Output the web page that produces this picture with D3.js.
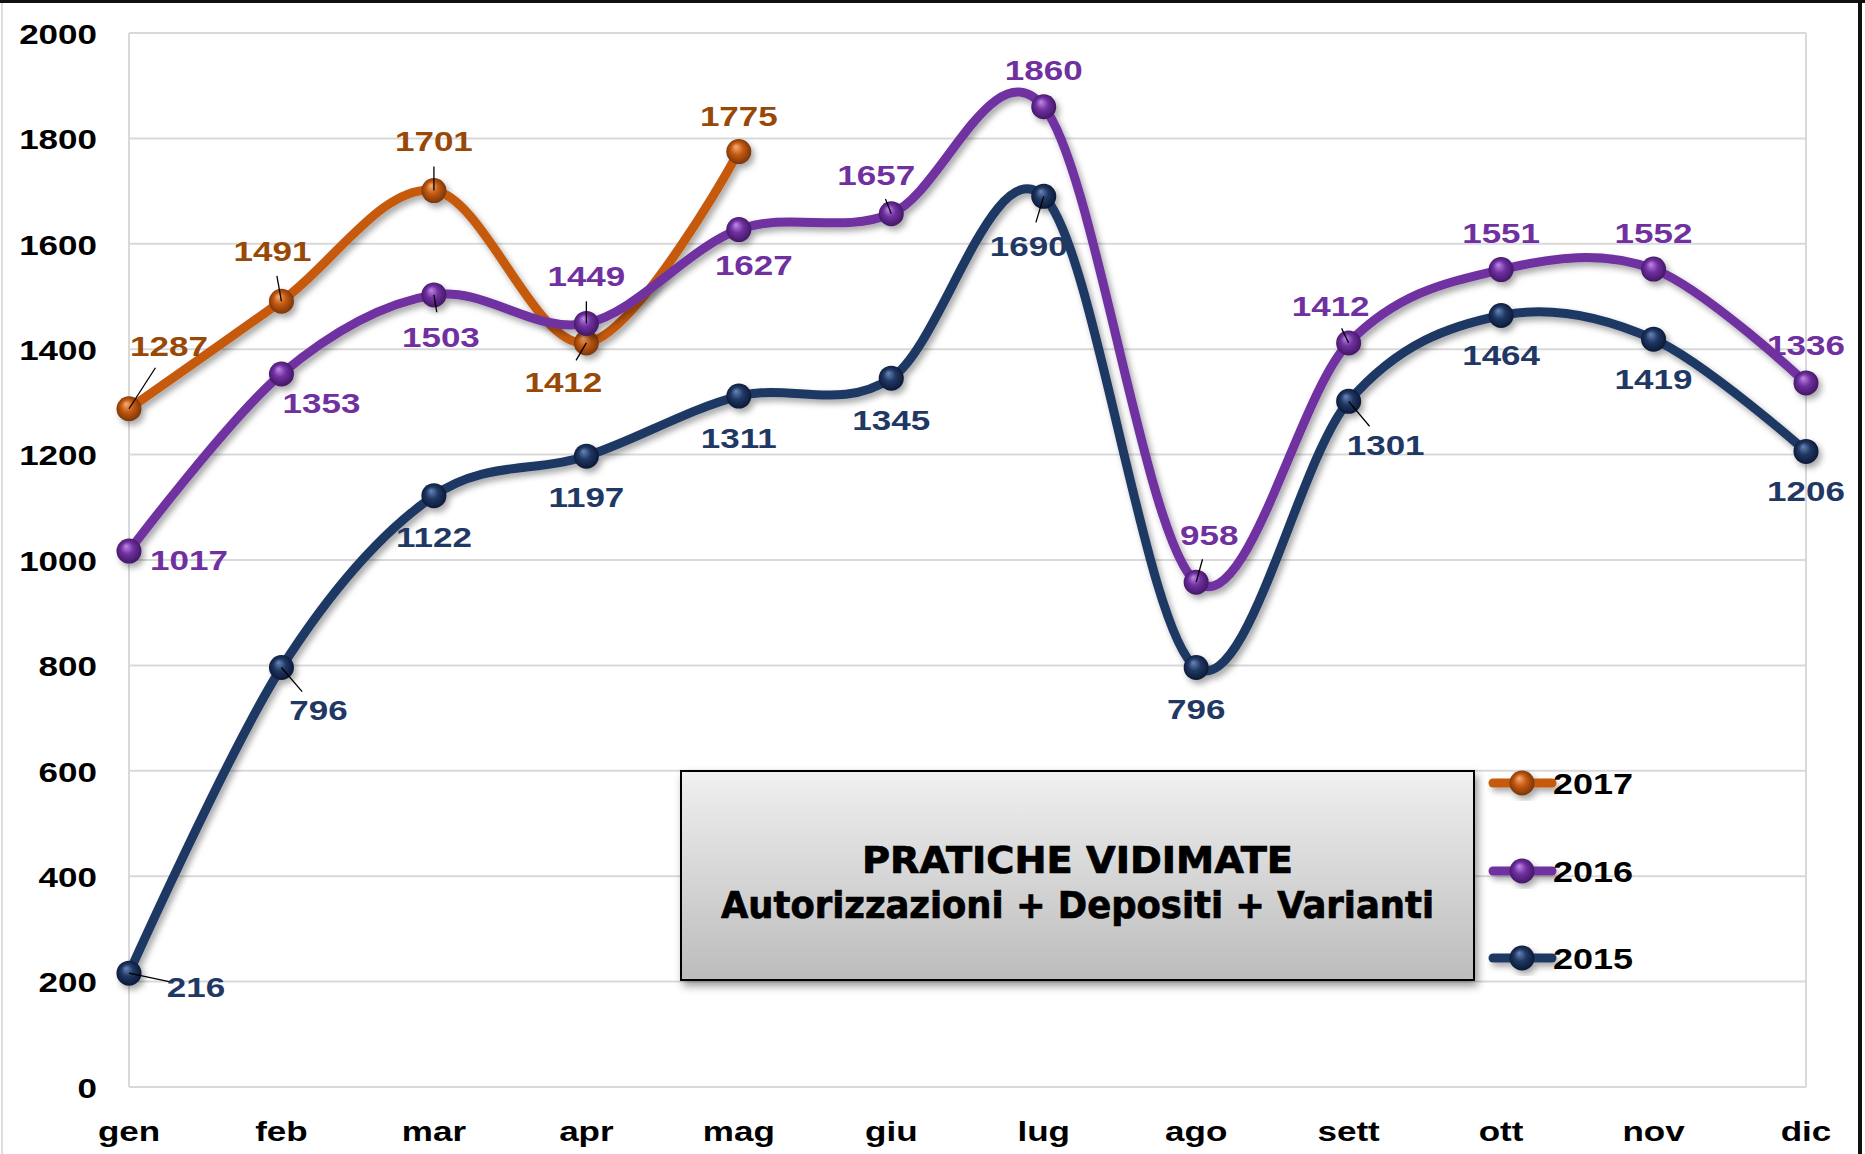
<!DOCTYPE html>
<html>
<head>
<meta charset="utf-8">
<script src="https://cdn.jsdelivr.net/npm/d3@7"></script>
<style>
  html, body { margin: 0; padding: 0; background: #ffffff; }
  svg { display: block; }
</style>
</head>
<body>
<svg id="chart" width="1865" height="1154"></svg>
<script>
// ---------- data ----------
const months = ["gen","feb","mar","apr","mag","giu","lug","ago","sett","ott","nov","dic"];
const yTickValues = [0,200,400,600,800,1000,1200,1400,1600,1800,2000];
const seriesNames = ["2017","2016","2015"];
const values2017 = [1287,1491,1701,1412,1775];
const values2016 = [1017,1353,1503,1449,1627,1657,1860,958,1412,1551,1552,1336];
const values2015 = [216,796,1122,1197,1311,1345,1690,796,1301,1464,1419,1206];
const titleLines = ["PRATICHE VIDIMATE", "Autorizzazioni + Depositi + Varianti"];

// ---------- layout (label offsets relative to points, leader flags) ----------
const labelOffsets2017 = [[40,-62],[-9,-50],[0,-49],[-23,39],[0,-35]];
const labelOffsets2016 = [[60,9],[40,29],[7,42],[0,-47],[15,36],[-15,-38],[0,-36],[13,-47],[-18,-37],[0,-36],[0,-36],[0,-38]];
const labelOffsets2015 = [[67,14],[37,43],[0,42],[0,41],[0,42],[0,42],[-15,50],[0,42],[37,44],[0,40],[0,40],[0,40]];
const leaders2017 = [1,1,1,1,0];
const leaders2016 = [0,0,1,1,0,1,0,1,1,0,0,0];
const leaders2015 = [1,1,0,0,0,0,1,0,1,0,0,0];

const styles = {
  "2017": {line:"#C55A11", label:"#984807", hi:"#F4B07A", mid:"#C55A11", dark:"#6E3006"},
  "2016": {line:"#7030A0", label:"#7030A0", hi:"#C08AE8", mid:"#7030A0", dark:"#3C145C"},
  "2015": {line:"#1F3864", label:"#1F3864", hi:"#6A86B8", mid:"#1F3864", dark:"#0A1530"}
};
const seriesData = {
  "2017": {values: values2017, offsets: labelOffsets2017, leaders: leaders2017},
  "2016": {values: values2016, offsets: labelOffsets2016, leaders: leaders2016},
  "2015": {values: values2015, offsets: labelOffsets2015, leaders: leaders2015}
};

const svg = d3.select("#chart");
const W = 1865, H = 1154;
const plot = {left:129, right:1806, top:33, bottom:1087};
const SX = 1.25; // horizontal stretch of text

const x = d3.scalePoint().domain(months).range([plot.left, plot.right]).padding(0);
const y = d3.scaleLinear().domain([0,2000]).range([plot.bottom, plot.top]);

// ---------- defs ----------
const defs = svg.append("defs");
const sh = defs.append("filter").attr("id","shadow").attr("x","-10%").attr("y","-10%").attr("width","130%").attr("height","130%");
sh.append("feDropShadow").attr("dx",3).attr("dy",4).attr("stdDeviation",3)
  .attr("flood-color","#000").attr("flood-opacity",0.35);
const bsh = defs.append("filter").attr("id","boxshadow").attr("x","-5%").attr("y","-10%").attr("width","115%").attr("height","130%");
bsh.append("feDropShadow").attr("dx",3).attr("dy",5).attr("stdDeviation",4)
  .attr("flood-color","#000").attr("flood-opacity",0.4);
seriesNames.forEach(n => {
  const st = styles[n];
  const g = defs.append("radialGradient").attr("id","sphere"+n)
    .attr("cx","50%").attr("cy","50%").attr("r","55%").attr("fx","38%").attr("fy","30%");
  g.append("stop").attr("offset","0%").attr("stop-color",st.hi);
  g.append("stop").attr("offset","45%").attr("stop-color",st.mid);
  g.append("stop").attr("offset","100%").attr("stop-color",st.dark);
});
const boxGrad = defs.append("linearGradient").attr("id","boxgrad").attr("x1",0).attr("y1",0).attr("x2",0).attr("y2",1);
boxGrad.append("stop").attr("offset","0%").attr("stop-color","#f0f0f0");
boxGrad.append("stop").attr("offset","100%").attr("stop-color","#bcbcbc");

// ---------- background & frame ----------
svg.append("rect").attr("x",0).attr("y",0).attr("width",W).attr("height",H).attr("fill","#fff");
svg.append("line").attr("x1",2).attr("x2",2).attr("y1",0).attr("y2",H).attr("stroke","#d0d0d0").attr("stroke-width",1.5);
svg.append("line").attr("x1",0).attr("x2",W).attr("y1",1.5).attr("y2",1.5).attr("stroke","#111").attr("stroke-width",3);
svg.append("line").attr("x1",1860).attr("x2",1860).attr("y1",0).attr("y2",H).attr("stroke","#111").attr("stroke-width",4);

// ---------- grid ----------
const grid = svg.append("g");
grid.selectAll("line.h").data(yTickValues).join("line")
  .attr("x1",plot.left).attr("x2",plot.right)
  .attr("y1",d=>y(d)).attr("y2",d=>y(d))
  .attr("stroke","#d9d9d9").attr("stroke-width",2);
grid.append("line").attr("x1",plot.left).attr("x2",plot.left).attr("y1",plot.top).attr("y2",plot.bottom)
  .attr("stroke","#d9d9d9").attr("stroke-width",2);
grid.append("line").attr("x1",plot.right).attr("x2",plot.right).attr("y1",plot.top).attr("y2",plot.bottom)
  .attr("stroke","#d9d9d9").attr("stroke-width",2);

function stretchedText(parent, tx, ty, str, opts) {
  const t = parent.append("text")
    .attr("transform", `translate(${tx},${ty}) scale(${opts.sx || SX},1)`)
    .attr("x",0).attr("y",0)
    .attr("font-family","'Liberation Sans', Arial, sans-serif")
    .attr("font-weight","bold")
    .attr("font-size", opts.size || 28)
    .attr("fill", opts.fill || "#000")
    .attr("text-anchor", opts.anchor || "middle")
    .attr("dominant-baseline", opts.baseline || "central")
    .text(str);
  return t;
}

// ---------- axes labels ----------
const axisG = svg.append("g");
yTickValues.forEach(v => stretchedText(axisG, 97, y(v)+1, String(v), {anchor:"end"}));
months.forEach(m => stretchedText(axisG, x(m), 1141, m, {baseline:"alphabetic"}));

// ---------- title box ----------
const box = {x:681, y:771, w:793, h:209};
svg.append("rect").attr("x",box.x).attr("y",box.y).attr("width",box.w).attr("height",box.h)
  .attr("fill","url(#boxgrad)").attr("stroke","#000").attr("stroke-width",2)
  .attr("filter","url(#boxshadow)");
const titleWidths = [431, 713];
const titleBase = [873, 918];
titleLines.forEach((s,i) => {
  svg.append("text")
    .attr("x", box.x + box.w/2).attr("y", titleBase[i])
    .attr("text-anchor","middle")
    .attr("font-family","'Liberation Sans Narrow', 'DejaVu Sans Condensed', 'Liberation Sans', sans-serif")
    .attr("font-weight","bold").attr("font-size",38)
    .attr("fill","#000").attr("stroke","#000").attr("stroke-width",0.7)
    .attr("textLength", titleWidths[i]).attr("lengthAdjust","spacingAndGlyphs")
    .text(s);
});

// ---------- series ----------
const lineGen = d3.line().curve(d3.curveCardinal.tension(0))
  .x(d=>x(d.m)).y(d=>y(d.v));

seriesNames.forEach(n => {
  const st = styles[n];
  const pts = seriesData[n].values.map((v,i)=>({m:months[i], v}));
  const g = svg.append("g").attr("filter","url(#shadow)");
  g.append("path").datum(pts).attr("d",lineGen)
    .attr("fill","none").attr("stroke",st.line).attr("stroke-width",9)
    .attr("stroke-linecap","round").attr("stroke-linejoin","round");
  g.selectAll("circle").data(pts).join("circle")
    .attr("cx",d=>x(d.m)).attr("cy",d=>y(d.v)).attr("r",12.5)
    .attr("fill",`url(#sphere${n})`);
});

// ---------- data labels & leaders ----------
const labG = svg.append("g");
seriesNames.forEach(n => {
  const st = styles[n];
  const sd = seriesData[n];
  sd.values.forEach((v,i) => {
    const px = x(months[i]), py = y(v);
    const [dx,dy] = sd.offsets[i];
    if (sd.leaders[i]) {
      const len = Math.hypot(dx,dy);
      const k = Math.max(0,(len-25)/len);
      labG.append("line").attr("x1",px).attr("y1",py)
        .attr("x2",px+dx*k).attr("y2",py+dy*k)
        .attr("stroke","#000").attr("stroke-width",1.3);
    }
    stretchedText(labG, px+dx, py+dy, String(v), {fill:st.label});
  });
});

// ---------- legend ----------
const legY = [783, 871, 958];
const legG = svg.append("g");
seriesNames.forEach((n,i) => {
  const st = styles[n];
  const gg = legG.append("g").attr("filter","url(#shadow)");
  gg.append("line").attr("x1",1493).attr("x2",1552).attr("y1",legY[i]).attr("y2",legY[i])
    .attr("stroke",st.line).attr("stroke-width",9).attr("stroke-linecap","round");
  gg.append("circle").attr("cx",1522).attr("cy",legY[i]).attr("r",12.5).attr("fill",`url(#sphere${n})`);
  stretchedText(legG, 1553, legY[i]+1, n, {anchor:"start", size:30, sx:1.2});
});
</script>
</body>
</html>
